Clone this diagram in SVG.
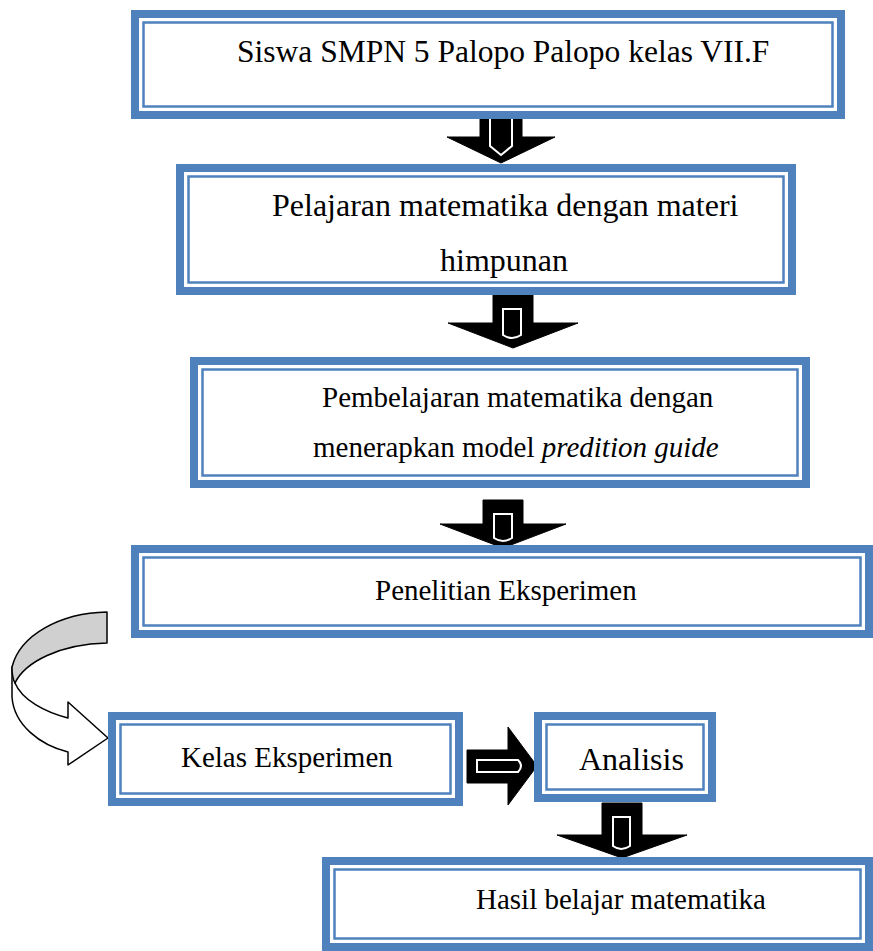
<svg xmlns="http://www.w3.org/2000/svg" width="873" height="951" viewBox="0 0 873 951">
<style>
.ob{fill:#fff;stroke:#4F81BD;stroke-width:8}
.ib{fill:none;stroke:#4F81BD;stroke-width:2.5}
.t{font-family:"Liberation Serif","Times New Roman",serif;fill:#000}
.ar{fill:#000;stroke:#000;stroke-width:1}
.ai{fill:#000;stroke:#fff;stroke-width:2}
</style>
<rect width="873" height="951" fill="#fff"/>
<g id="connectors">
  <g id="a1">
    <polygon class="ar" points="480,117 522,117 522,137 555,137 501,163 447,137 480,137"/>
    <path class="ai" d="M490,117 V146 L501,155 L512,146 V117"/>
  </g>
  <g id="a2">
    <polygon class="ar" points="493,293 533,293 533,323 578,323 513,348 448,323 493,323"/>
    <path class="ai" d="M503,309 H521 V335 Q512,341 503,335 Z"/>
  </g>
  <g id="a3">
    <polygon class="ar" points="483,500 523,500 523,524 566,524 503,548 440,524 483,524"/>
    <path class="ai" d="M494,514 H512 V538 Q503,544 494,538 Z"/>
  </g>
  <g id="a4">
    <polygon class="ar" points="467,750 508,750 508,727 537,766 508,805 508,783 467,783"/>
    <path class="ai" d="M477,760 H518 Q524,766 518,772 H477 Z"/>
  </g>
  <g id="a5">
    <polygon class="ar" points="602,803 642,803 642,835 687,835 622,858 557,835 602,835"/>
    <path class="ai" d="M613,817 H630 V846 Q621,852 613,846 Z"/>
  </g>
  <g id="curved">
    <path d="M12,667 L12,697 C14,725 40,745 68,752 L68,765 L108,738 L68,702 L68,718 C45,712 22,700 15,683 Z" fill="#fff" stroke="#000" stroke-width="1.5" stroke-linejoin="round"/>
    <path d="M107,612 L107,643 C60,644 25,662 15,683 C12,678 12,672 12,667 C20,635 60,613 107,612 Z" fill="#D0D0D0" stroke="#000" stroke-width="1.5" stroke-linejoin="round"/>
  </g>
</g>
<g id="n1">
  <rect class="ob" x="135" y="14" width="706" height="101"/>
  <rect class="ib" x="143.5" y="22.5" width="689" height="84"/>
  <text class="t" x="237" y="62" font-size="31.5">Siswa SMPN 5 Palopo Palopo kelas VII.F</text>
</g>
<g id="n2">
  <rect class="ob" x="180" y="168" width="612" height="123"/>
  <rect class="ib" x="188.5" y="176.5" width="595" height="106"/>
  <text class="t" x="272" y="216" font-size="32">Pelajaran matematika dengan materi</text>
  <text class="t" x="440" y="271" font-size="32">himpunan</text>
</g>
<g id="n3">
  <rect class="ob" x="194" y="361" width="612" height="123"/>
  <rect class="ib" x="202.5" y="369.5" width="595" height="106"/>
  <text class="t" x="322" y="407" font-size="29">Pembelajaran matematika dengan</text>
  <text class="t" x="313" y="457" font-size="29">menerapkan model <tspan font-style="italic">predition guide</tspan></text>
</g>
<g id="n4">
  <rect class="ob" x="135" y="549" width="734" height="85"/>
  <rect class="ib" x="143.5" y="557.5" width="717" height="68"/>
  <text class="t" x="375" y="600" font-size="29">Penelitian Eksperimen</text>
</g>
<g id="n5">
  <rect class="ob" x="112" y="716" width="347" height="86"/>
  <rect class="ib" x="120.5" y="724.5" width="330" height="69"/>
  <text class="t" x="181" y="767" font-size="29">Kelas Eksperimen</text>
</g>
<g id="n6">
  <rect class="ob" x="538" y="716" width="174" height="82"/>
  <rect class="ib" x="546.5" y="724.5" width="157" height="65"/>
  <text class="t" x="579" y="770" font-size="32">Analisis</text>
</g>
<g id="n7">
  <rect class="ob" x="326" y="861" width="543" height="86"/>
  <rect class="ib" x="334.5" y="869.5" width="526" height="69"/>
  <text class="t" x="476" y="909" font-size="29">Hasil belajar matematika</text>
</g>
</svg>
